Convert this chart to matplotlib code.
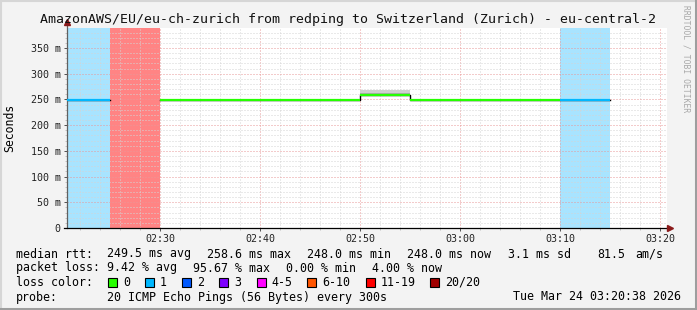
import numpy as np
import matplotlib
matplotlib.use("Agg")
from matplotlib import pyplot as plt
from matplotlib.patches import Rectangle
from matplotlib.lines import Line2D

# 5 minute samples, x in minutes after 02:00
sample_start = [20, 25, 30, 35, 40, 45, 50, 55, 60, 65, 70, 75]
median_rtt = [248.0, np.nan, 248.0, 248.2, 249.0, 249.2, 258.6, 249.1, 249.2, 249.0, 248.0, np.nan]
smoke_top = [248.6, np.nan, 248.6, 248.8, 249.6, 249.8, 268.0, 249.7, 249.8, 249.6, 248.6, np.nan]
loss_count = [1, 19, 0, 0, 0, 0, 0, 0, 0, 0, 1, -1]

x_ticks = [30, 40, 50, 60, 70, 80]
x_labels = ["02:30", "02:40", "02:50", "03:00", "03:10", "03:20"]
y_ticks = [0, 50, 100, 150, 200, 250, 300, 350]

loss_labels = ["0", "1", "2", "3", "4-5", "6-10", "11-19", "20/20"]
loss_colors = ["#26ff00", "#00b8ff", "#0059ff", "#7e00ff", "#ff00ff", "#ff5500", "#ff0000", "#a10000"]

title = "AmazonAWS/EU/eu-ch-zurich from redping to Switzerland (Zurich) - eu-central-2"
rtt_stats = ["median rtt:", "249.5 ms avg", "258.6 ms max", "248.0 ms min", "248.0 ms now",
             "3.1 ms sd", "81.5", "am/s"]
loss_stats = ["packet loss:", "9.42 % avg", "95.67 % max", "0.00 % min", "4.00 % now"]
probe_text = "20 ICMP Echo Pings (56 Bytes) every 300s"
stamp = "Tue Mar 24 03:20:38 2026"


def loss_index(n):
    if n <= 3:
        return n
    if n <= 5:
        return 4
    if n <= 10:
        return 5
    if n <= 19:
        return 6
    return 7


W, H = 697, 310
mono = "DejaVu Sans Mono"


def fx(x):
    return x / W


def fy(y):
    return 1 - y / H


fig = plt.figure(figsize=(W / 100, H / 100), dpi=100)
fig.patch.set_facecolor("#f3f3f3")

# plot area 600x200 px like rrdtool
ax = fig.add_axes([fx(67), fy(228), 600 / W, 200 / H])
ax.set_facecolor("white")
ax.set_xlim(20.7, 80.7)
ax.set_ylim(0, 388.9)

step = 5
# background shading for lossy samples
bg_colors = {1: "#a8e4ff", 6: "#ff8484"}
for s, n in zip(sample_start, loss_count):
    if n > 0:
        ax.axvspan(s, s + step, color=bg_colors.get(loss_index(n), "#dddddd"), lw=0, zorder=0.5)

# grid
ax.set_axisbelow("line")
ax.set_xticks(x_ticks)
ax.set_xticklabels(x_labels)
ax.set_xticks(np.arange(22, 81, 2), minor=True)
ax.set_yticks(y_ticks)
ax.set_yticklabels([f"{v} m" if v else "0" for v in y_ticks])
ax.set_yticks(np.arange(0, 389, 10), minor=True)
ax.grid(which="minor", color="#d4d4d4", lw=0.72, linestyle=(0, (1, 2)))
ax.grid(which="major", color="#e89898", lw=0.72, linestyle=(0, (1, 2)))

# smoke
for s, m, top in zip(sample_start, median_rtt, smoke_top):
    if np.isnan(m):
        continue
    ax.fill_between([s, s + step], m, top, color="#cfcfcf", lw=0, zorder=1.8)
    ax.fill_between([s, s + step], m, m + (top - m) * 0.5, color="#aaaaaa", lw=0, zorder=1.9)

# median line: black steps, coloured by loss
edges = sample_start + [sample_start[-1] + step]
ax.step(edges, median_rtt + [median_rtt[-1]], where="post", color="black", lw=1.0, zorder=2)
for s, m, n in zip(sample_start, median_rtt, loss_count):
    if np.isnan(m):
        continue
    ax.hlines(m, s, s + step, color=loss_colors[loss_index(n)], lw=1.6, zorder=3)

for side in ["top", "right", "left", "bottom"]:
    ax.spines[side].set_visible(False)
ax.add_line(Line2D([0, 0], [0, 1.03], transform=ax.transAxes, color="#606060", lw=0.9, clip_on=False))
ax.add_line(Line2D([-0.005, 1.005], [0, 0], transform=ax.transAxes, color="black", lw=0.9, clip_on=False))
ax.plot([0], [1.03], marker="^", ms=4, color="#8b1a1a", transform=ax.transAxes, clip_on=False)
ax.plot([1.005], [0], marker=">", ms=4, color="#8b1a1a", transform=ax.transAxes, clip_on=False)

ax.tick_params(which="major", length=2.2, width=0.7, color="#505050", pad=2.4,
               labelsize=7.2, labelcolor="#222222")
ax.tick_params(which="minor", length=1.2, width=0.5, color="#b0b0b0")
for lab in ax.get_xticklabels() + ax.get_yticklabels():
    lab.set_family(mono)

# texts
fig.text(0.5, fy(19), title, family=mono, fontsize=9.5, ha="center", va="center", color="#111111")
fig.text(fx(10), fy(128), "Seconds", family=mono, fontsize=8.3, rotation=90, ha="center", va="center")
fig.text(fx(686), fy(5), "RRDTOOL / TOBI OETIKER", family=mono, fontsize=5.8, rotation=270,
         ha="center", va="top", color="#a8a8a8")

fs = 8.4
rtt_x = [16, 107, 207, 307, 407.5, 507.5, 597, 635]
for t, x in zip(rtt_stats, rtt_x):
    fig.text(fx(x), fy(254), t, family=mono, fontsize=fs, va="center")
loss_x = [16, 107, 193, 286, 372]
for t, x in zip(loss_stats, loss_x):
    fig.text(fx(x), fy(268), t, family=mono, fontsize=fs, va="center")

fig.text(fx(16), fy(282), "loss color:", family=mono, fontsize=fs, va="center")
box_x = [108, 145, 182, 219, 256.5, 307, 365.5, 430]
for bx, lab, col in zip(box_x, loss_labels, loss_colors):
    fig.add_artist(Rectangle((fx(bx), fy(286.5)), 9 / W, 9 / H, transform=fig.transFigure,
                             facecolor=col, edgecolor="black", lw=0.8))
    fig.text(fx(bx + 15), fy(282), lab, family=mono, fontsize=fs, va="center")

fig.text(fx(16), fy(297), "probe:", family=mono, fontsize=fs, va="center")
fig.text(fx(107), fy(297), probe_text, family=mono, fontsize=fs, va="center")
fig.text(fx(681), fy(297), stamp, family=mono, fontsize=fs, va="center", ha="right")

# 3d border
fig.add_artist(Line2D([0, 1], [fy(1), fy(1)], transform=fig.transFigure, color="#d6d6d6", lw=1.5))
fig.add_artist(Line2D([fx(1), fx(1)], [0, 1], transform=fig.transFigure, color="#d6d6d6", lw=1.5))
fig.add_artist(Line2D([0, 1], [fy(308.5), fy(308.5)], transform=fig.transFigure, color="#9e9e9e", lw=2.2))
fig.add_artist(Line2D([fx(695.5), fx(695.5)], [0, 1], transform=fig.transFigure, color="#9e9e9e", lw=2.2))

fig.savefig("out.png", dpi=100, facecolor=fig.get_facecolor())
